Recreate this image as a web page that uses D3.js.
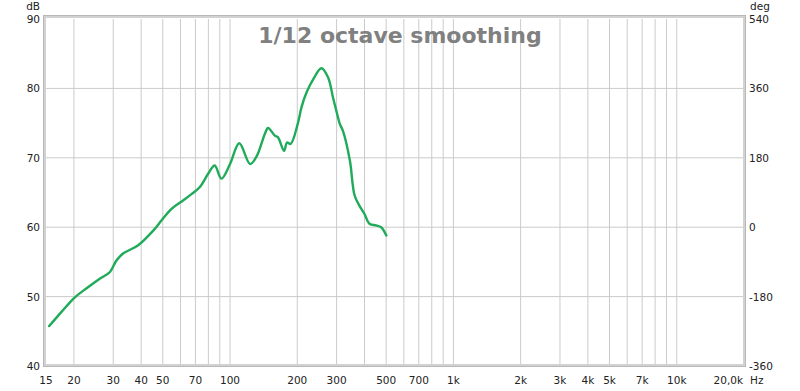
<!DOCTYPE html>
<html>
<head>
<meta charset="utf-8">
<script src="https://cdn.jsdelivr.net/npm/d3@7"></script>
<style>
  body { margin: 0; background: #fff; }
  svg { display: block; font-family: "DejaVu Sans", Verdana, sans-serif; }
</style>
</head>
<body>
<div class="content"></div>
<script>
const SVG_W = 800;
const SVG_H = 391;

// measured response (Hz, dB)
const freqs = [15.5, 17.6, 20.2, 22.8, 26.2, 29, 31, 33.2, 38.8, 45.3, 49.4, 54.7, 61.6, 67.4, 73.3, 79.8, 85.4, 91.5, 100, 110,
               123, 131.5, 143, 148, 158.7, 164, 174.6, 180, 186.8, 201, 209, 220, 235.6, 256.5, 274.6, 289, 299, 310, 320,
               344, 361, 381, 400, 421, 451, 475, 501];
const spl = [45.75, 47.8, 49.9, 51.2, 52.6, 53.55, 55.2, 56.2, 57.4, 59.5, 61.0, 62.65, 63.85, 64.8, 65.8, 67.7, 68.9, 67.0, 69.1, 72.1,
             69.1, 70.2, 73.4, 74.3, 73.2, 72.95, 71.0, 72.2, 72.0, 74.9, 77.3, 79.4, 81.3, 82.9, 81.6, 78.7, 76.8, 74.9, 73.9,
             69.6, 64.6, 63.0, 61.9, 60.5, 60.25, 60.0, 58.8];

const gridFreqs = [20, 30, 40, 50, 60, 70, 80, 90, 100, 200, 300, 400, 500, 600, 700, 800, 900,
                   1000, 2000, 3000, 4000, 5000, 6000, 7000, 8000, 9000, 10000];
const labelFreqs = [15, 20, 30, 40, 50, 70, 100, 200, 300, 500, 700, 1000, 2000, 3000, 4000, 5000, 7000, 10000];
const labelText = ["15", "20", "30", "40", "50", "70", "100", "200", "300", "500", "700", "1k", "2k", "3k", "4k", "5k", "7k", "10k"];
const dbTicks = [40, 50, 60, 70, 80, 90];
const degTicks = [-360, -180, 0, 180, 360, 540];

const svg = d3.select(".content").append("svg").attr("width", SVG_W).attr("height", SVG_H);

const xscale = d3.scaleLog().domain([15, 20000]).range([46, 744]);
const yscale = d3.scaleLinear().domain([40, 90]).range([366, 19]);
const degscale = d3.scaleLinear().domain([-360, 540]).range([366, 19]);

// grid
svg.append("g").selectAll("line").data(gridFreqs).join("line")
    .attr("x1", d => xscale(d)).attr("x2", d => xscale(d))
    .attr("y1", yscale(90)).attr("y2", yscale(40))
    .attr("stroke", "#cbcbcb").attr("stroke-width", 1);
svg.append("g").selectAll("line").data([50, 60, 70, 80]).join("line")
    .attr("x1", xscale(15)).attr("x2", xscale(20000))
    .attr("y1", d => yscale(d)).attr("y2", d => yscale(d))
    .attr("stroke", "#cbcbcb").attr("stroke-width", 1);

// frame
svg.append("rect").attr("x", 44.5).attr("y", 16.5).attr("width", 700).attr("height", 349)
    .attr("fill", "none").attr("stroke", "#d2d2d2").attr("stroke-width", 3);
svg.append("rect").attr("x", 43.5).attr("y", 15.5).attr("width", 702).attr("height", 351)
    .attr("fill", "none").attr("stroke", "#b8b8b8").attr("stroke-width", 1);

// title
svg.append("text").attr("x", 400).attr("y", 43).attr("text-anchor", "middle")
    .style("font-size", "22px").style("font-weight", "bold").attr("fill", "#808080")
    .text("1/12 octave smoothing");

// left axis labels
svg.append("g").selectAll("text").data(dbTicks).join("text")
    .attr("x", 40).attr("y", d => yscale(d) + 4).attr("text-anchor", "end")
    .style("font-size", "10.5px").attr("fill", "#222").text(d => d);
svg.append("text").attr("x", 40).attr("y", 10).attr("text-anchor", "end")
    .style("font-size", "10.5px").attr("fill", "#222").text("dB");

// right axis labels
svg.append("g").selectAll("text").data(degTicks).join("text")
    .attr("x", 749).attr("y", d => degscale(d) + 4).attr("text-anchor", "start")
    .style("font-size", "10.5px").attr("fill", "#222").text(d => d);
svg.append("text").attr("x", 750).attr("y", 10).attr("text-anchor", "start")
    .style("font-size", "10.5px").attr("fill", "#222").text("deg");

// bottom labels
svg.append("g").selectAll("text").data(labelFreqs).join("text")
    .attr("x", d => xscale(d)).attr("y", 384).attr("text-anchor", "middle")
    .style("font-size", "10.5px").attr("fill", "#222").text((d, i) => labelText[i]);
svg.append("text").attr("x", 743).attr("y", 384).attr("text-anchor", "end")
    .style("font-size", "10.5px").attr("fill", "#222").text("20,0k");
svg.append("text").attr("x", 750).attr("y", 384).attr("text-anchor", "start")
    .style("font-size", "10.5px").attr("fill", "#222").text("Hz");

// curve
const data = freqs.map((f, i) => ({ f: f, db: spl[i] }));
const line = d3.line().x(d => xscale(d.f)).y(d => yscale(d.db)).curve(d3.curveCatmullRom.alpha(0.5));
svg.append("path").datum(data).attr("d", line)
    .attr("fill", "none").attr("stroke", "#1fab5a").attr("stroke-width", 2.4)
    .attr("stroke-linejoin", "round").attr("stroke-linecap", "round");
</script>
</body>
</html>
